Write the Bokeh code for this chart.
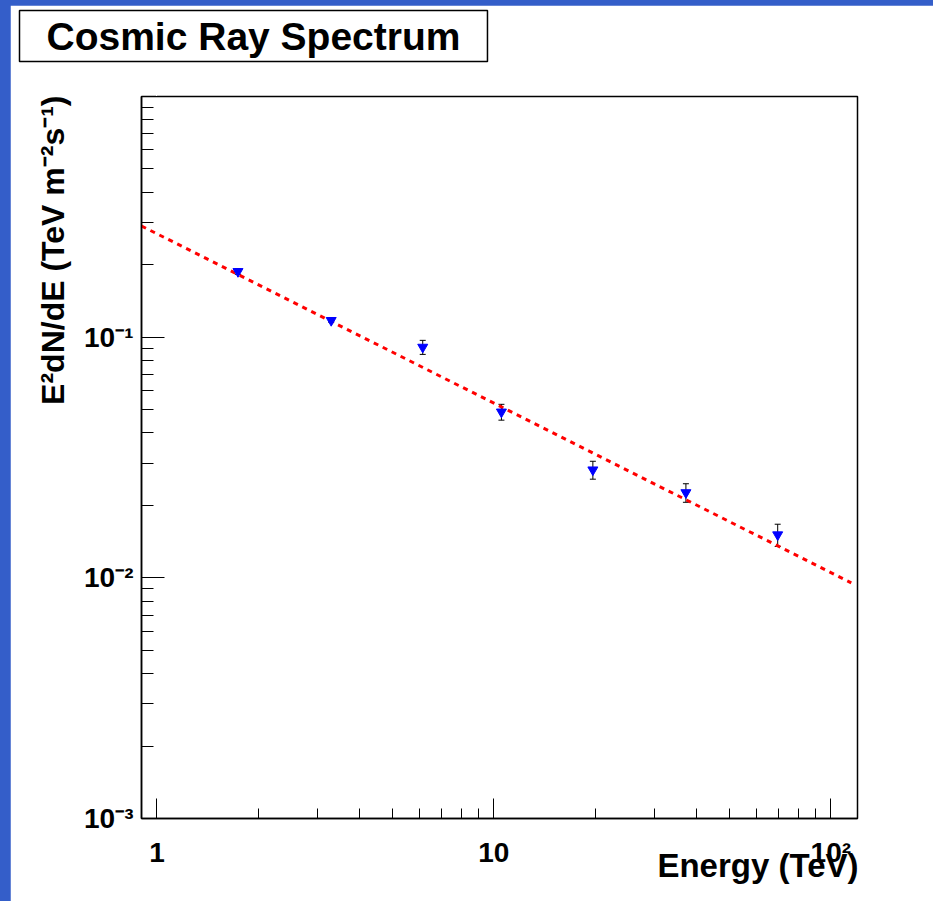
from bokeh.embed import file_html
from bokeh.layouts import column
from bokeh.models import (ColumnDataSource, FixedTicker, LogAxis, Range1d, TeeHead, Title,
                          Whisker)
from bokeh.plotting import figure
from bokeh.resources import INLINE

# ---- measured spectrum (E in TeV, E^2 dN/dE in TeV m^-2 s^-1) ----
energy = [1.74, 3.29, 6.15, 10.53, 19.67, 37.15, 69.56]
flux = [0.1875, 0.1174, 0.0909, 0.0489, 0.0281, 0.0226, 0.0151]
flux_err = [0.005, 0.002, 0.0061, 0.0037, 0.0024, 0.0020, 0.0016]

# ---- power-law fit: E^2 dN/dE = norm * E^(-index) ----
fit_norm = 0.269
fit_index = 0.704
fit_energy = [0.9, 115.0]

# ---- axes ----
x_limits = (0.9, 120.0)
y_limits = (1e-3, 1.0)
x_major = [1, 10, 100]
x_minor = [2, 3, 4, 5, 6, 7, 8, 9, 20, 30, 40, 50, 60, 70, 80, 90]
y_major = [1e-3, 1e-2, 1e-1, 1.0]
y_minor = [m * d for d in (1e-3, 1e-2, 1e-1) for m in range(2, 10)]
x_tick_text = ["1", "10", "10\u00b2"]
y_tick_text = ["10\u207b\u00b3", "10\u207b\u00b2", "10\u207b\u00b9", ""]

title_text = "Cosmic Ray Spectrum"
x_title = "Energy (TeV)"
y_title = "E\u00b2dN/dE (TeV m\u207b\u00b2s\u207b\u00b9)"

# ---- page geometry (pixels) ----
PAD_LEFT, PAD_TOP = 10, 5           # blue pad edges
W, H = 933 - PAD_LEFT, 901 - PAD_TOP
FL, FT, FW, FH = 131, 91, 716, 722  # frame inside the canvas
TITLE_GAP = 28                      # space between title box and frame
FONT = "Liberation Sans"
PAD_BLUE = "#345ec9"

p = figure(
    x_axis_type="log", y_axis_type="log",
    x_range=Range1d(*x_limits), y_range=Range1d(*y_limits),
    width=W, height=H,
    min_border_left=FL, min_border_right=W - FL - FW,
    min_border_top=FT, min_border_bottom=H - FT - FH,
    toolbar_location=None, output_backend="svg", title=None,
)
p.margin = (PAD_TOP, 0, 0, PAD_LEFT)
p.background_fill_color = "white"
p.border_fill_color = "white"
p.outline_line_color = "black"
p.outline_line_width = 1.5
p.xgrid.visible = False
p.ygrid.visible = False

for ax, major, minor, labels, maj_len, min_len, standoff in (
    (p.xaxis[0], x_major, x_minor, x_tick_text, 20, 10, 18),
    (p.yaxis[0], y_major, y_minor, y_tick_text, 23, 12, 8),
):
    ax.ticker = FixedTicker(ticks=major, minor_ticks=minor)
    ax.major_label_overrides = dict(zip(major, labels))
    ax.major_label_text_font = FONT
    ax.major_label_text_font_style = "bold"
    ax.major_label_text_font_size = "28px"
    ax.major_label_text_color = "black"
    ax.major_label_standoff = standoff
    ax.axis_line_color = "black"
    ax.axis_line_width = 1.5
    ax.major_tick_line_color = "black"
    ax.minor_tick_line_color = "black"
    ax.major_tick_in = maj_len
    ax.major_tick_out = 0
    ax.minor_tick_in = min_len
    ax.minor_tick_out = 0

# bare top axis (white on white): it only keeps the title box clear of the frame
top_axis = LogAxis(ticker=FixedTicker(ticks=[x_major[0]], minor_ticks=[]),
                   major_label_overrides={x_major[0]: ""},
                   major_label_text_font_size="1px", major_label_standoff=0,
                   axis_line_color=None, major_tick_line_color="white",
                   major_tick_in=0, major_tick_out=TITLE_GAP,
                   minor_tick_in=0, minor_tick_out=0)
p.add_layout(top_axis, "above")

title_font = dict(text_font=FONT, text_font_style="bold", text_color="black")

# boxed chart title in the upper-left corner
p.add_layout(Title(
    text=title_text, align="left", offset=-122, vertical_align="top", standoff=10,
    text_font_size="39px", background_fill_color="white",
    border_line_color="black", border_line_width=1.5,
    padding=dict(left=27, right=27, top=4, bottom=4), **title_font), "above")

# axis titles, flush with the far ends of their axes
p.add_layout(Title(text=x_title, align="right", offset=-1, vertical_align="top",
                   standoff=-48, text_font_size="33px", **title_font), "below")
p.add_layout(Title(text=y_title, align="right", offset=-1, vertical_align="bottom",
                   standoff=22, text_font_size="32px", **title_font), "left")

# ---- fit line ----
fit_flux = [fit_norm * e ** (-fit_index) for e in fit_energy]
p.line(fit_energy, fit_flux, line_color="red", line_width=3, line_dash="5 5")

# ---- data points with error bars ----
src = ColumnDataSource(dict(
    energy=energy, flux=flux,
    upper=[f + e for f, e in zip(flux, flux_err)],
    lower=[f - e for f, e in zip(flux, flux_err)],
))
p.add_layout(Whisker(
    source=src, base="energy", upper="upper", lower="lower", dimension="height",
    line_color="black", line_width=1, level="underlay",
    upper_head=TeeHead(size=6, line_color="black", line_width=1),
    lower_head=TeeHead(size=6, line_color="black", line_width=1)))
p.scatter("energy", "flux", source=src, marker="inverted_triangle", size=10,
          fill_color="blue", line_color="blue")

page = column(p, styles={"background-color": PAD_BLUE})
open("out.html", "w").write(file_html(page, INLINE))
